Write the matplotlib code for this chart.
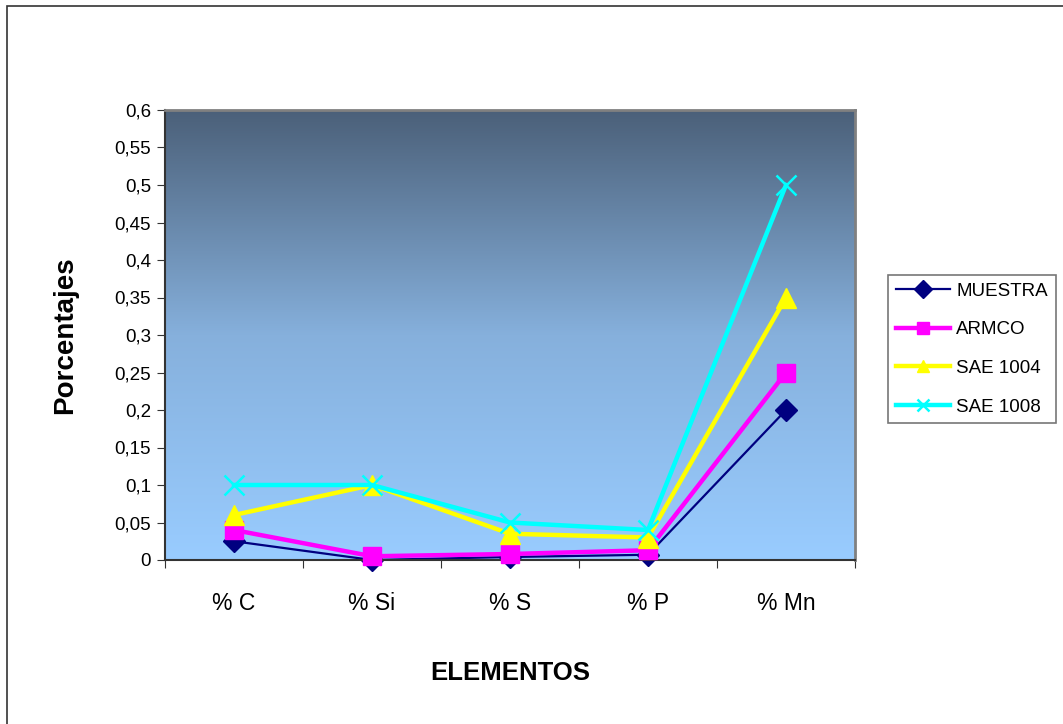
import numpy as np
import matplotlib.pyplot as plt
from matplotlib.colors import LinearSegmentedColormap
from matplotlib.patches import Rectangle

plt.rcParams['font.family'] = ['Liberation Sans', 'DejaVu Sans']

# datos
elementos = ['% C', '% Si', '% S', '% P', '% Mn']
muestra = [0.025, 0.0, 0.004, 0.007, 0.2]
armco = [0.04, 0.005, 0.008, 0.013, 0.25]
sae1004 = [0.06, 0.1, 0.035, 0.03, 0.35]
sae1008 = [0.1, 0.1, 0.05, 0.04, 0.5]
yticks = [0, 0.05, 0.1, 0.15, 0.2, 0.25, 0.3, 0.35, 0.4, 0.45, 0.5, 0.55, 0.6]

fig = plt.figure(figsize=(10.63, 7.24), dpi=100)
# marco exterior
fig.patches.append(Rectangle((7 / 1063, -0.1), 1.2, (724 - 6) / 724 + 0.1,
                             transform=fig.transFigure, fill=False,
                             edgecolor='#333333', linewidth=1.2))

ax = fig.add_axes([165 / 1063, 1 - 560 / 724, 690 / 1063, 450 / 724])

# fondo degradado
cmap = LinearSegmentedColormap.from_list('fondo', ['#99ccff', '#86b0dc', '#4b6079'])
grad = np.linspace(0, 1, 256).reshape(-1, 1)
ax.imshow(grad, cmap=cmap, aspect='auto', origin='lower',
          extent=[-0.5, 4.5, 0, 0.6], zorder=0)

x = np.arange(len(elementos))
ax.plot(x, muestra, color='#000080', lw=1.6, marker='D', ms=11, label='MUESTRA', zorder=2, clip_on=False)
ax.plot(x, armco, color='#ff00ff', lw=3.2, marker='s', ms=13, label='ARMCO', zorder=3, clip_on=False)
ax.plot(x, sae1004, color='#ffff00', lw=3.2, marker='^', ms=15, label='SAE 1004', zorder=4, clip_on=False)
ax.plot(x, sae1008, color='#00ffff', lw=3.2, marker='x', ms=15, mew=1.8, label='SAE 1008', zorder=5, clip_on=False)

ax.set_xlim(-0.5, 4.5)
ax.set_ylim(0, 0.6)
ax.set_yticks(yticks)
ax.set_yticklabels([('%g' % v).replace('.', ',') for v in yticks], fontsize=13.5)
ax.set_xticks(np.arange(-0.5, 4.6, 1))
ax.set_xticklabels([])
ax.set_xticks(x, minor=True)
ax.set_xticklabels(elementos, minor=True, fontsize=16.5)
ax.tick_params(axis='x', which='minor', length=0, pad=23)
ax.tick_params(axis='x', which='major', length=6, direction='out', color='#333333')
ax.tick_params(axis='y', length=6, direction='out', pad=4, color='#333333')

for s in ['top', 'right']:
    ax.spines[s].set_color('#808080')
    ax.spines[s].set_linewidth(2)
for s in ['left', 'bottom']:
    ax.spines[s].set_color('#333333')
    ax.spines[s].set_linewidth(1.5)

ax.set_ylabel('Porcentajes', fontsize=20, fontweight='bold', labelpad=26)
ax.set_xlabel('ELEMENTOS', fontsize=18.5, fontweight='bold', labelpad=33)

leg = fig.legend(loc='upper left', bbox_to_anchor=(888 / 1063, 1 - 275 / 724),
                 fontsize=13.5, frameon=True, fancybox=False, edgecolor='#555555',
                 handlelength=2.9, labelspacing=1.15, borderpad=0.4,
                 handletextpad=0.35, borderaxespad=0)
leg.get_frame().set_linewidth(1.2)
for h in leg.legend_handles:
    h.set_markersize(9)

fig.savefig('out.png', dpi=100)
